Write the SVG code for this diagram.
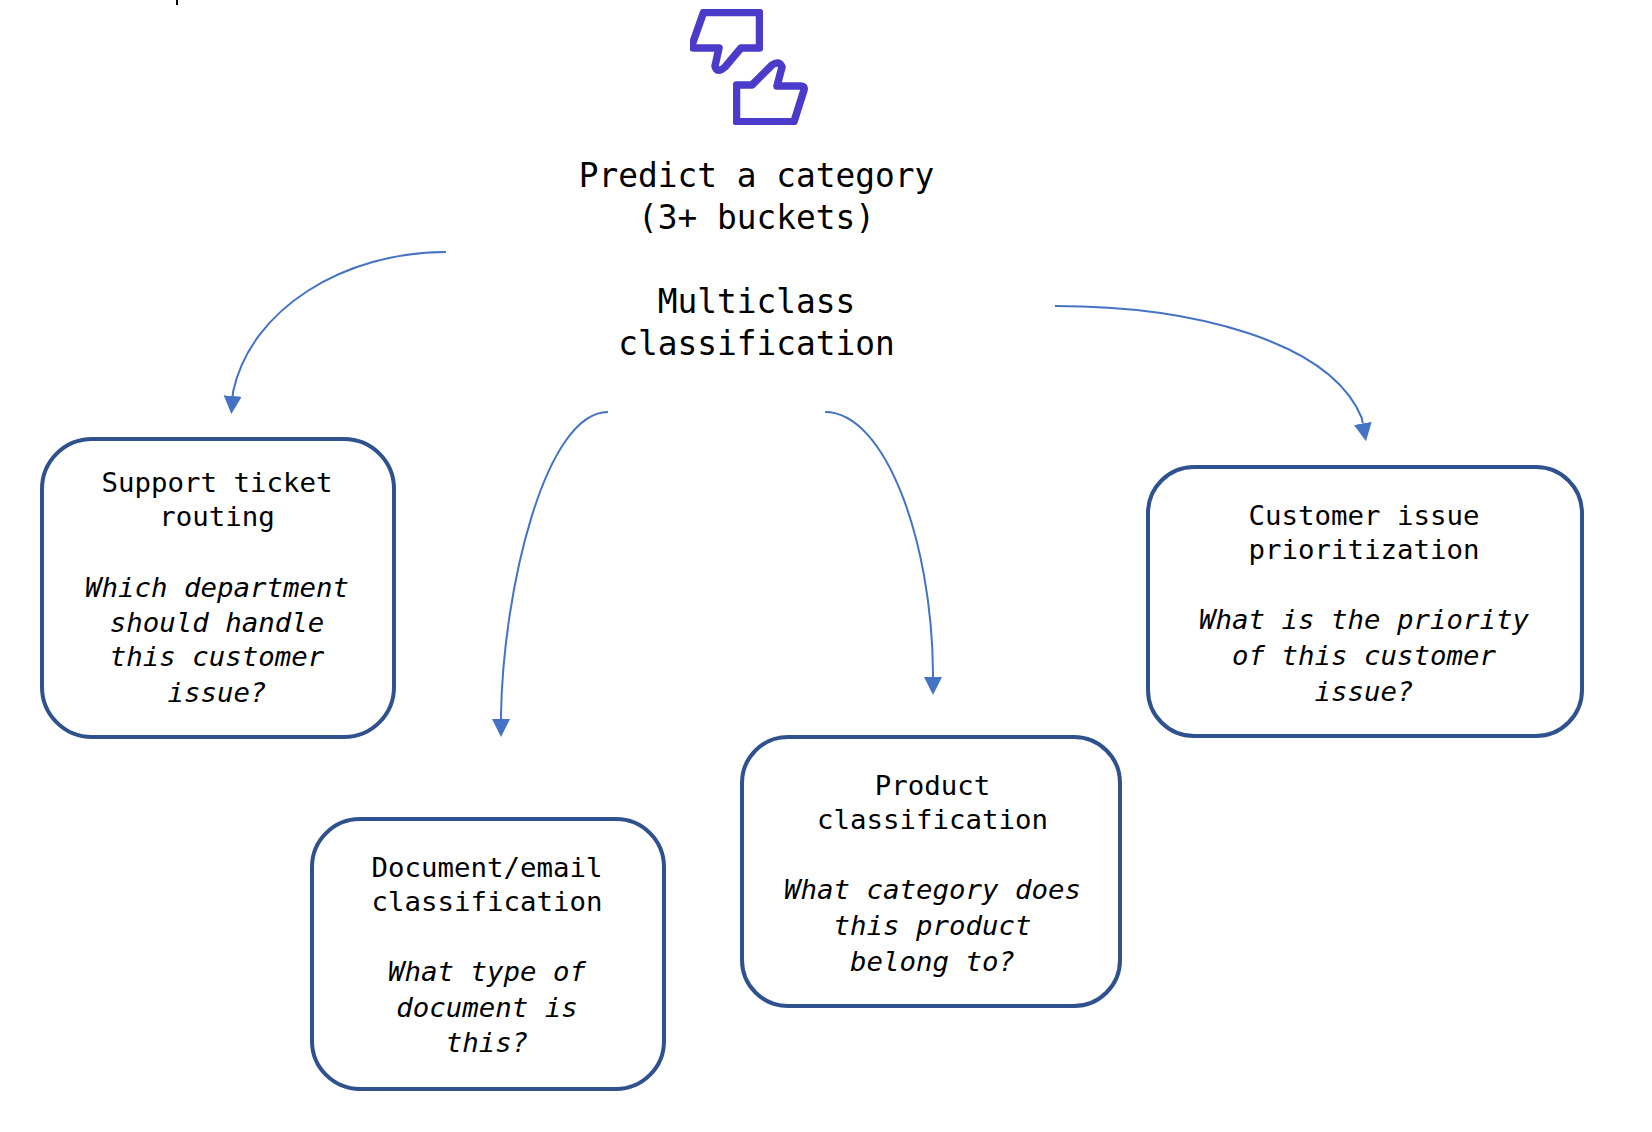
<svg xmlns="http://www.w3.org/2000/svg" width="1652" height="1132" viewBox="0 0 1652 1132">
<style>
text{font-family:"DejaVu Sans Mono","Liberation Mono",monospace;fill:#000;text-anchor:middle}
.t{font-size:32.8px}
.b{font-size:27.4px}
.i{font-style:italic}
.box{fill:#fff;stroke:#2F528F;stroke-width:4}
.c{fill:none;stroke:#4472C4;stroke-width:2;marker-end:url(#ah)}
.icon{fill:none;stroke:#4B3BCB;stroke-width:7.500;stroke-linejoin:round}
</style>
<defs>
<marker id="ah" markerUnits="userSpaceOnUse" markerWidth="20" markerHeight="20" viewBox="0 0 20 20" refX="0" refY="10" orient="auto"><path d="M0 1L18 10L0 19Z" fill="#4472C4"/></marker>
<clipPath id="iconclip"><rect x="690" y="9" width="73" height="68"/><rect x="733" y="58" width="75" height="67"/></clipPath>
</defs>
<rect width="1652" height="1132" fill="#fff"/>
<rect id="tick" x="176" y="0" width="2" height="5" fill="#000"/>
<g id="icon" clip-path="url(#iconclip)">
<path class="icon" d="M703.500 12.500L759.500 12.500L759.500 48L741 48L725 67Q717 74 715 66L719 48L694 48Q691 48 692 45Z"/>
<path class="icon" d="M736.500 121.700L736.500 85L752 85L772 65Q779 60 782 67L777 86L801 86Q805 86 804 90L794 121.700Z"/>
</g>
<g id="title">
<text class="t"><tspan x="756.500" y="187">Predict a category</tspan><tspan x="756.500" y="229">(3+ buckets)</tspan><tspan x="756.500" y="313">Multiclass</tspan><tspan x="756.500" y="355">classification</tspan></text>
</g>
<g id="connectors">
<path class="c" d="M446 252C345 252 251 308 233 392L232.700 396"/>
<path class="c" d="M608 412C545 412 503 590 501 715L501 719"/>
<path class="c" d="M825 412C885 412 932 540 933 673L933 677"/>
<path class="c" d="M1055 306C1190 306 1330 340 1361.800 418L1362.800 423.500"/>
</g>
<g id="node-support">
<rect class="box" x="42" y="439" width="352" height="298" rx="50"/>
<text class="b"><tspan x="217" y="492">Support ticket</tspan><tspan x="217" y="526">routing</tspan></text>
<text class="b i"><tspan x="217" y="597">Which department</tspan><tspan x="217" y="632">should handle</tspan><tspan x="217" y="666">this customer</tspan><tspan x="217" y="702">issue?</tspan></text>
</g>
<g id="node-document">
<rect class="box" x="312" y="819" width="352" height="270" rx="48"/>
<text class="b"><tspan x="487" y="877">Document/email</tspan><tspan x="487" y="911">classification</tspan></text>
<text class="b i"><tspan x="487" y="981">What type of</tspan><tspan x="487" y="1017">document is</tspan><tspan x="487" y="1052">this?</tspan></text>
</g>
<g id="node-product">
<rect class="box" x="742" y="737" width="378" height="269" rx="46"/>
<text class="b"><tspan x="932.500" y="795">Product</tspan><tspan x="932.500" y="829">classification</tspan></text>
<text class="b i"><tspan x="932.500" y="899">What category does</tspan><tspan x="932.500" y="935">this product</tspan><tspan x="932.500" y="971">belong to?</tspan></text>
</g>
<g id="node-customer">
<rect class="box" x="1148" y="467" width="434" height="269" rx="46"/>
<text class="b"><tspan x="1364" y="525">Customer issue</tspan><tspan x="1364" y="559">prioritization</tspan></text>
<text class="b i"><tspan x="1364" y="629">What is the priority</tspan><tspan x="1364" y="665">of this customer</tspan><tspan x="1364" y="701">issue?</tspan></text>
</g>
</svg>
